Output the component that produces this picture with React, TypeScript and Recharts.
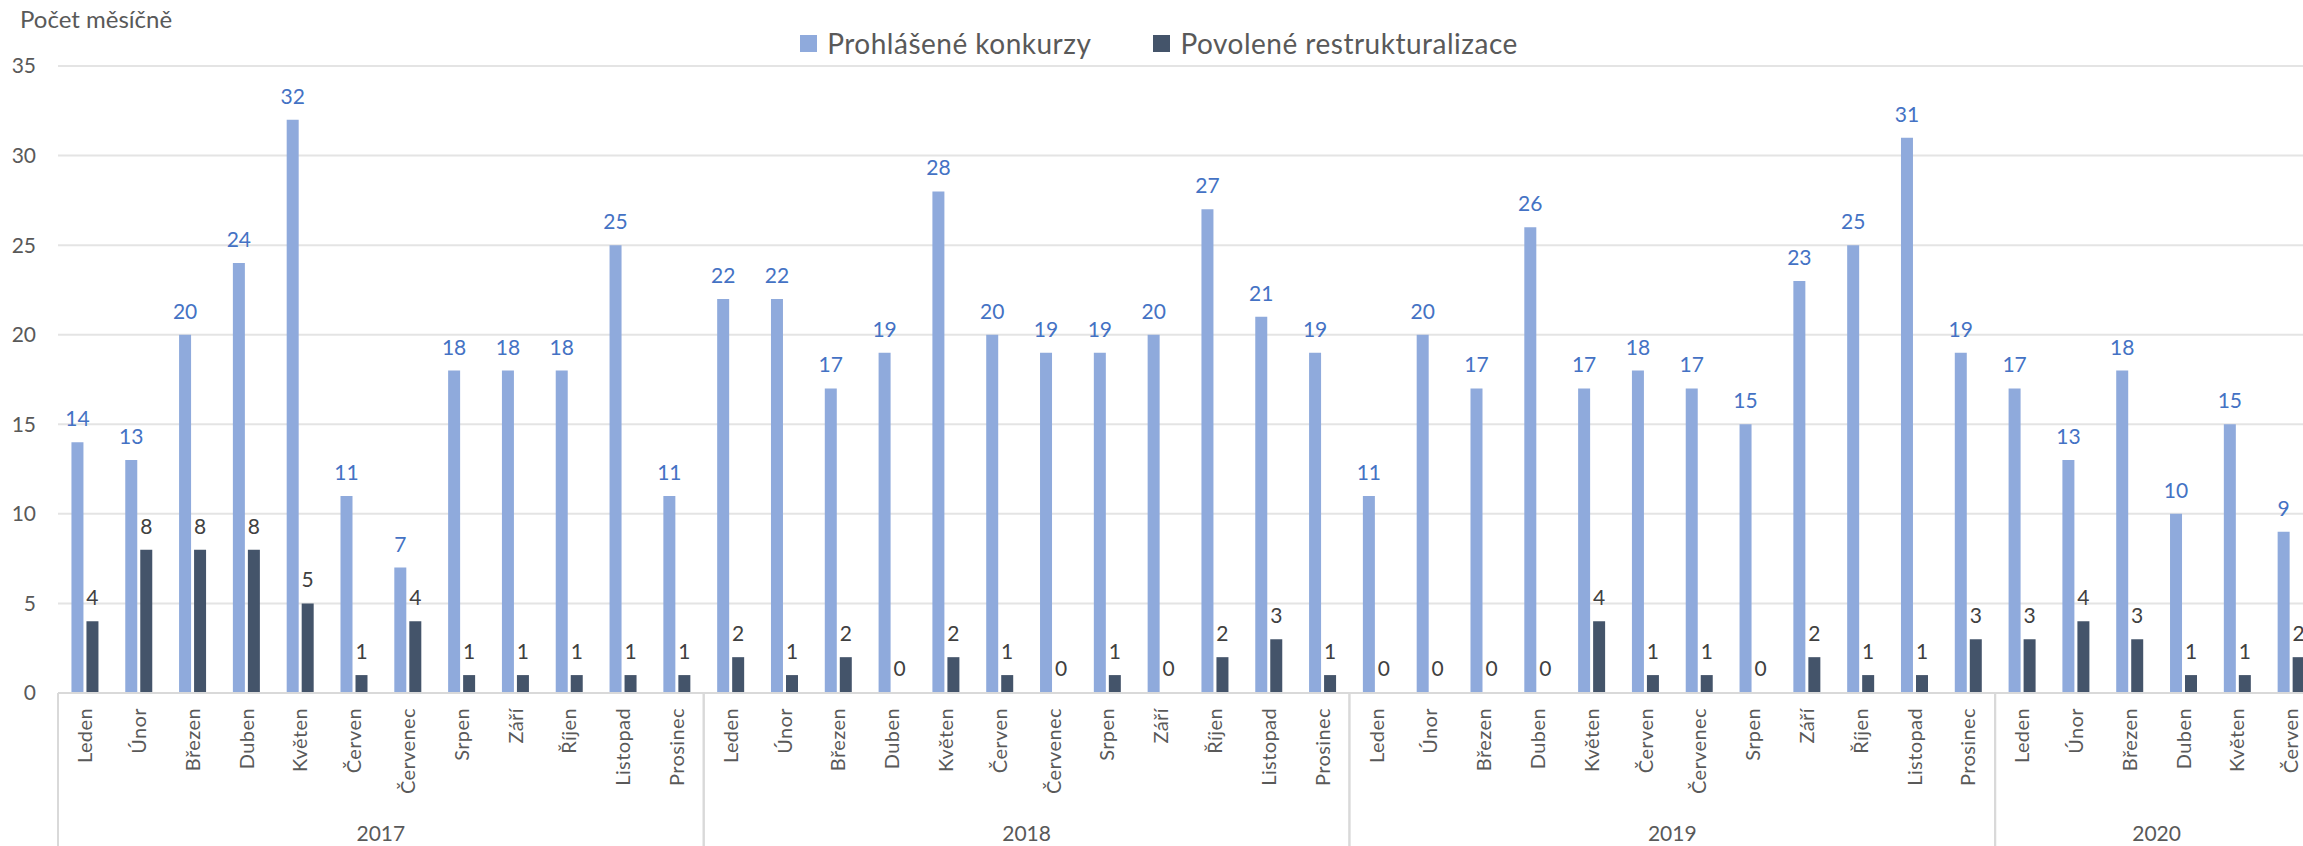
import { BarChart, Bar, XAxis, YAxis, CartesianGrid, Legend, LabelList, Cell } from 'recharts';

const MONTHS = ['Leden', 'Únor', 'Březen', 'Duben', 'Květen', 'Červen', 'Červenec', 'Srpen', 'Září', 'Říjen', 'Listopad', 'Prosinec'];
const YEARS = ['2017', '2018', '2019', '2020'];

// Prohlášené konkurzy, leden 2017 - červen 2020
const KONKURZY = [
  14, 13, 20, 24, 32, 11, 7, 18, 18, 18, 25, 11,
  22, 22, 17, 19, 28, 20, 19, 19, 20, 27, 21, 19,
  11, 20, 17, 26, 17, 18, 17, 15, 23, 25, 31, 19,
  17, 13, 18, 10, 15, 9,
];

// Povolené restrukturalizace
const RESTRUKTURALIZACE = [
  4, 8, 8, 8, 5, 1, 4, 1, 1, 1, 1, 1,
  2, 1, 2, 0, 2, 1, 0, 1, 0, 2, 3, 1,
  0, 0, 0, 0, 4, 1, 1, 0, 2, 1, 1, 3,
  3, 4, 3, 1, 1, 2,
];

const Y_TICKS = [0, 5, 10, 15, 20, 25, 30, 35];

const data = KONKURZY.map((v, i) => ({
  month: MONTHS[i % 12],
  year: YEARS[Math.floor(i / 12)],
  konkurzy: v,
  restrukturalizace: RESTRUKTURALIZACE[i],
}));

const BLUE = '#8FAADC';
const DARK = '#44546A';
const TEXT = '#595959';
const LINE = '#D9D9D9';
const TICK_MARGIN = 15;

function MonthTick(props: any) {
  const { x, y, payload } = props;
  const i = payload.index;
  const row = data[i];
  const half = payload.offset ?? 0;
  const axisY = y - TICK_MARGIN;
  const first = i === 0 || data[i - 1].year !== row.year;
  const count = data.filter((d) => d.year === row.year).length;
  const left = x - half;

  return (
    <g>
      <text
        x={x}
        y={y}
        dy="0.36em"
        transform={`rotate(-90, ${x}, ${y})`}
        textAnchor="end"
        fontSize={20}
        letterSpacing={0.4}
        fill={TEXT}
      >
        {row.month}
      </text>
      {first && (
        <g>
          <line x1={left} y1={axisY} x2={left} y2={axisY + 160} stroke={LINE} strokeWidth={2} />
          <line
            x1={left + 2 * half * count}
            y1={axisY}
            x2={left + 2 * half * count}
            y2={axisY + 160}
            stroke={LINE}
            strokeWidth={2}
          />
          <text x={left + half * count} y={axisY + 148} textAnchor="middle" fontSize={21} fill={TEXT}>
            {row.year}
          </text>
        </g>
      )}
    </g>
  );
}

function LegendContent() {
  const items = [
    { label: 'Prohlášené konkurzy', color: BLUE },
    { label: 'Povolené restrukturalizace', color: DARK },
  ];
  return (
    <div style={{ height: 46, display: 'flex', justifyContent: 'center', alignItems: 'center', gap: 62 }}>
      {items.map((it) => (
        <div key={it.label} style={{ display: 'flex', alignItems: 'center' }}>
          <span style={{ width: 17, height: 17, background: it.color, display: 'inline-block', marginRight: 10 }} />
          <span style={{ fontSize: 28, letterSpacing: 0.5, color: TEXT }}>{it.label}</span>
        </div>
      ))}
    </div>
  );
}

export default function App() {
  return (
    <div
      style={{
        position: 'absolute',
        left: 0,
        top: 0,
        width: 2303,
        height: 846,
        overflow: 'hidden',
        background: '#fff',
        fontFamily: 'Lato, sans-serif',
      }}
    >
      <div style={{ position: 'absolute', left: 20, top: 4, fontSize: 24, color: TEXT, zIndex: 1 }}>
        Počet měsíčně
      </div>
      <BarChart
        width={2330}
        height={846}
        data={data}
        margin={{ top: 20, right: 12, left: 0, bottom: 0 }}
        barCategoryGap="25%"
        barGap={3}
      >
        <CartesianGrid vertical={false} stroke="#E4E4E4" strokeWidth={2} />
        <XAxis
          dataKey="month"
          interval={0}
          height={153}
          tickSize={0}
          tickMargin={TICK_MARGIN}
          tick={<MonthTick />}
          axisLine={{ stroke: LINE, strokeWidth: 2 }}
        />
        <YAxis
          domain={[0, 35]}
          ticks={Y_TICKS}
          width={58}
          tickLine={false}
          axisLine={false}
          tickMargin={16}
          tick={{ fontSize: 21, fill: TEXT }}
        />
        <Legend verticalAlign="top" align="center" content={<LegendContent />} />
        <Bar dataKey="konkurzy" name="Prohlášené konkurzy" fill={BLUE} isAnimationActive={false}>
          <LabelList dataKey="konkurzy" position="top" offset={16} fill="#4472C4" fontSize={21} />
        </Bar>
        <Bar
          dataKey="restrukturalizace"
          name="Povolené restrukturalizace"
          fill={DARK}
          minPointSize={1}
          isAnimationActive={false}
        >
          {data.map((d, i) => (
            <Cell key={`r-${i}`} fill={d.restrukturalizace === 0 ? 'transparent' : DARK} />
          ))}
          <LabelList dataKey="restrukturalizace" position="top" offset={16} fill="#404040" fontSize={21} />
        </Bar>
      </BarChart>
    </div>
  );
}
